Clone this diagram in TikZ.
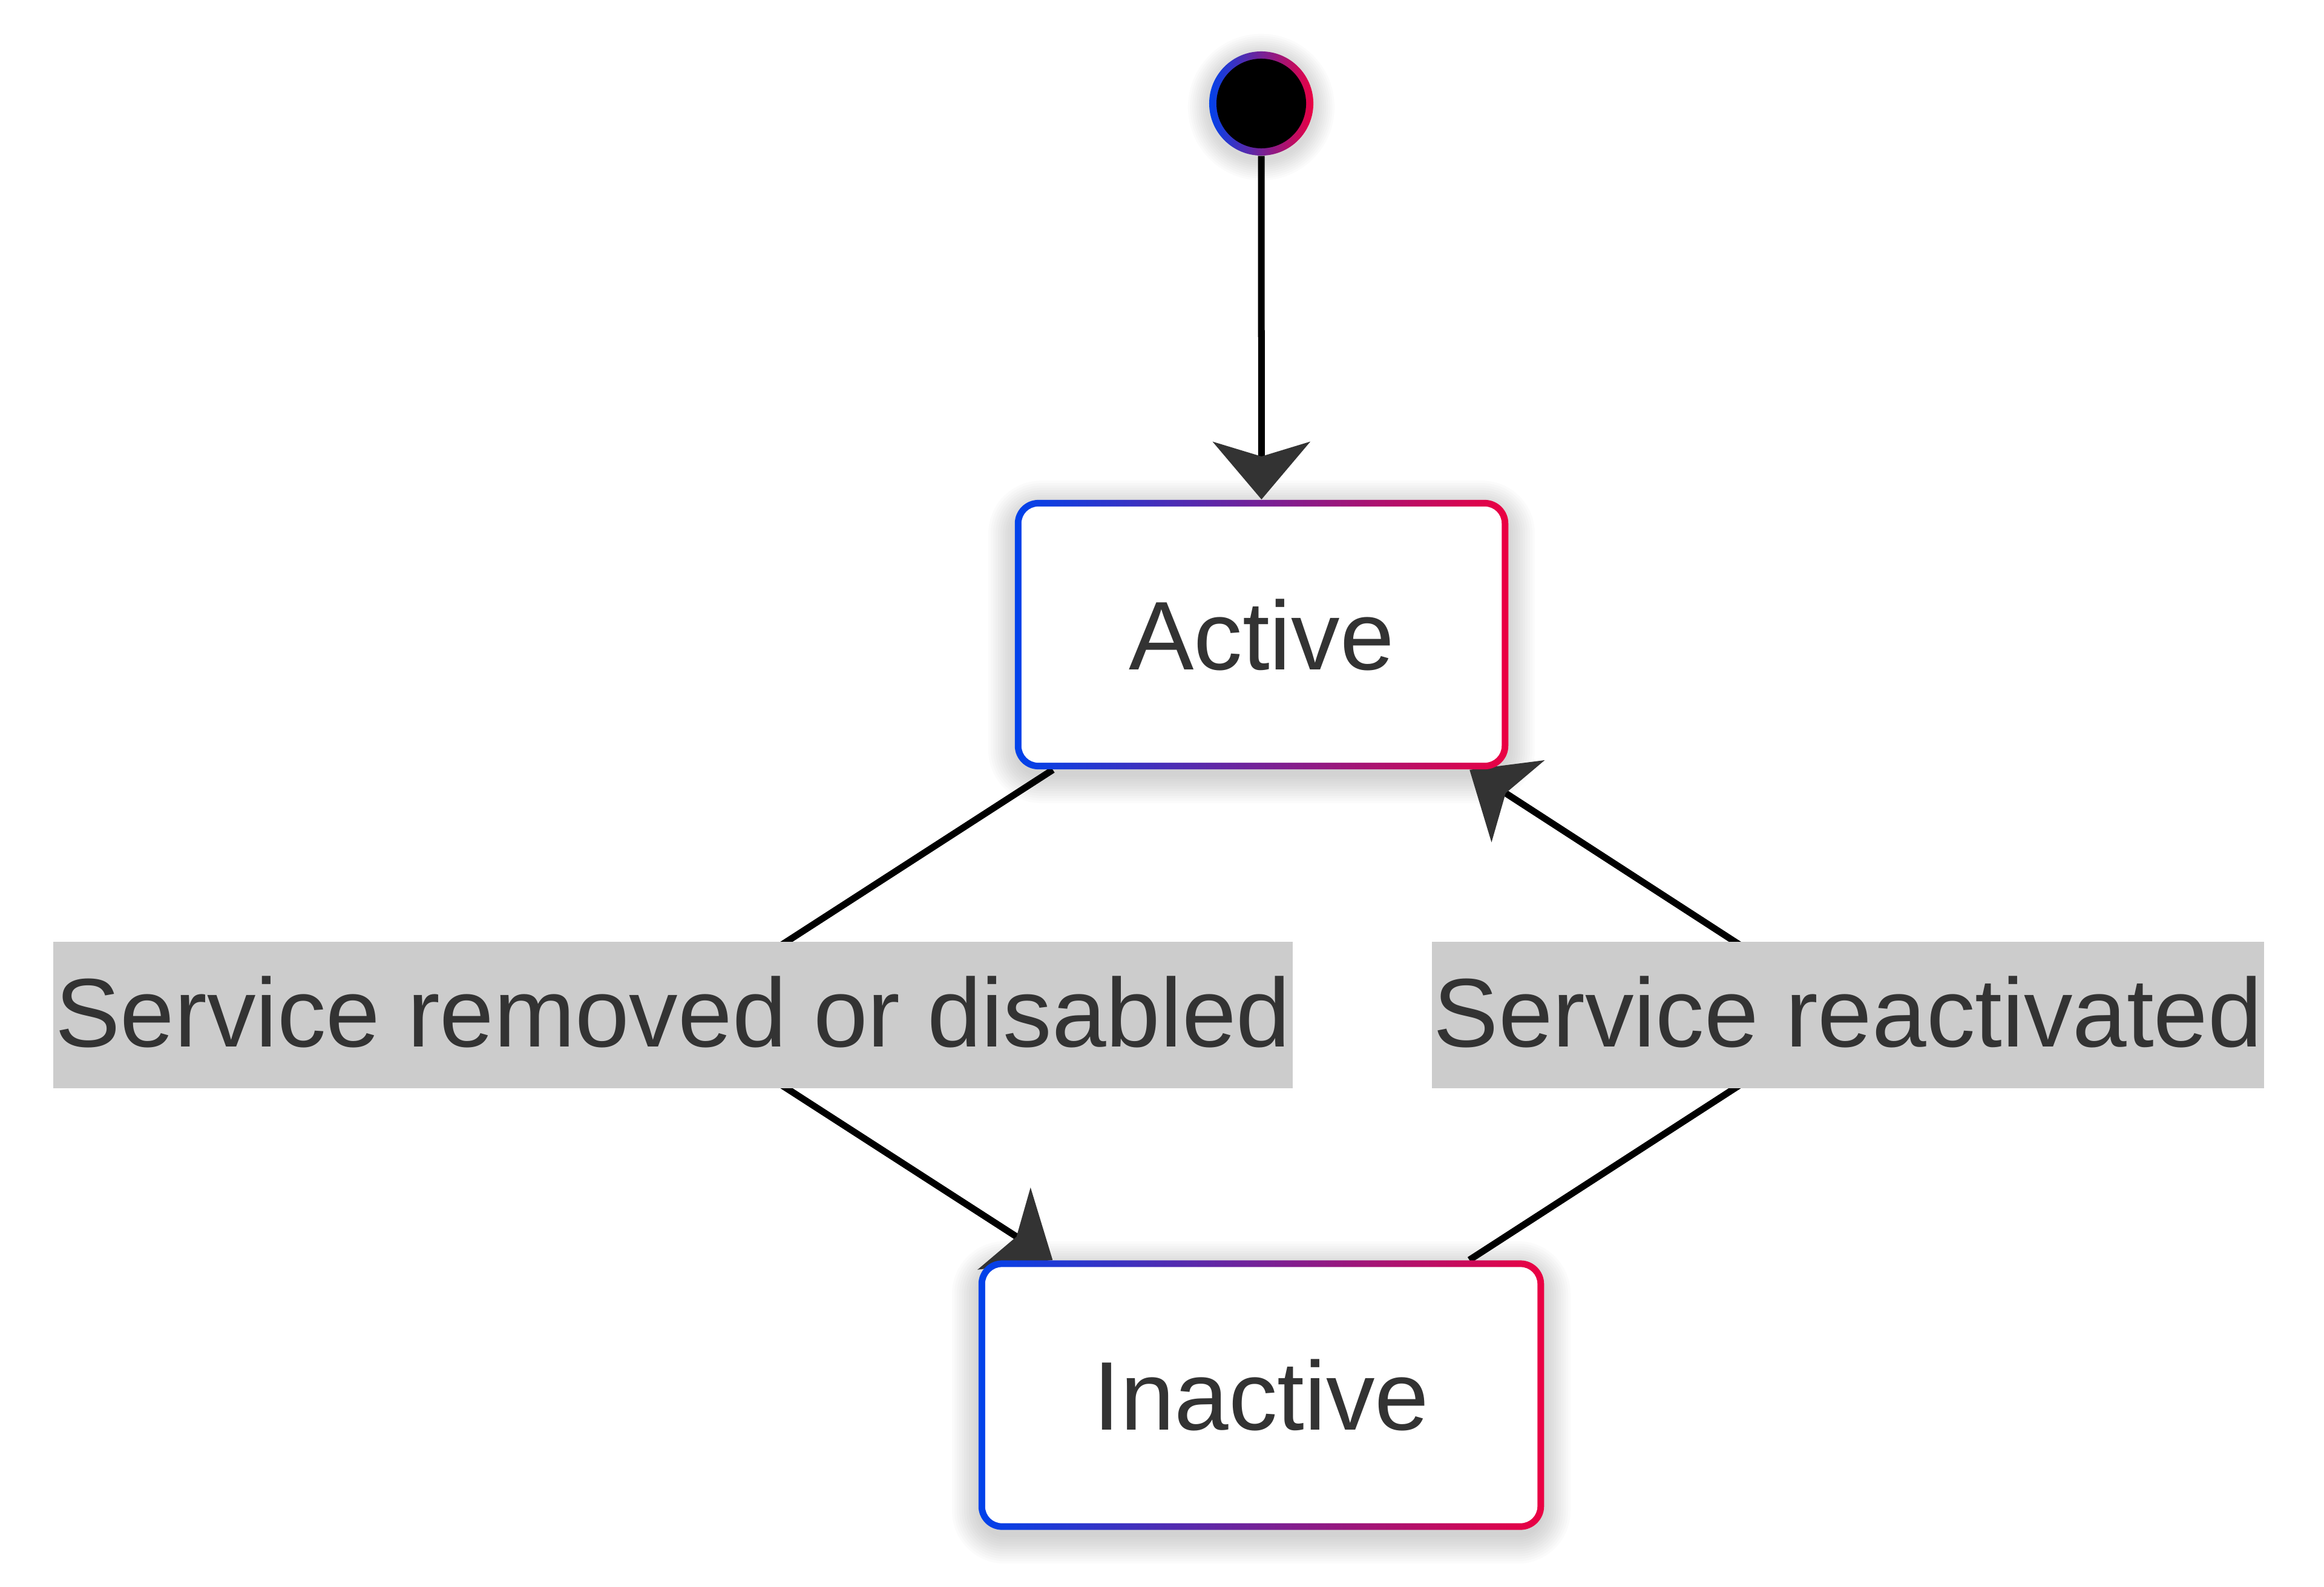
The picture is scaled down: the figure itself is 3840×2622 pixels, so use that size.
\documentclass[tikz,border=0pt]{standalone}
\usepackage{fontspec}
\setmainfont{Liberation Sans}
\usetikzlibrary{arrows.meta}
\definecolor{gblue}{RGB}{0,66,235}
\definecolor{gred}{RGB}{235,0,66}
\definecolor{txt}{RGB}{51,51,51}
\definecolor{lblgray}{RGB}{204,204,204}
\definecolor{arrowgray}{RGB}{51,51,51}
\pgfdeclarelayer{bg}
\pgfsetlayers{bg,main}
\tikzset{
  bigfont/.style={font=\fontsize{45.8pt}{55pt}\selectfont},
  statebox/.style={rectangle, rounded corners=0.39cm, minimum height=4.45cm, inner sep=0pt,
    left color=gblue, right color=gred, text=txt, bigfont, text height=1.15cm, text depth=0pt,
    path picture={\fill[white, rounded corners=0.28cm]
      ([shift={(0.11cm,0.11cm)}]path picture bounding box.south west) rectangle
      ([shift={(-0.11cm,-0.11cm)}]path picture bounding box.north east);}},
  startdot/.style={circle, minimum size=1.72cm, inner sep=0pt, left color=gblue, right color=gred,
    path picture={\fill[black] (path picture bounding box.center) circle (0.74cm);}},
  edgelabel/.style={fill=lblgray, text=txt, bigfont, inner xsep=0.03cm, inner ysep=0pt,
    text height=1.73cm, text depth=0.69cm},
  edgeline/.style={draw=black, line width=0.11cm,
    -{Stealth[length=0.95cm, width=1.6cm, inset=0.24cm, color=arrowgray]}},
}
\begin{document}
\begin{tikzpicture}[x=0.01cm, y=-0.01cm]
\useasboundingbox (0,0) rectangle (3840,2622);
\node[startdot] (start) at (2084,171) {};
\node[statebox, minimum width=8.15cm] (active) at (2084.5,1048.5) {Active};
\node[statebox, minimum width=9.34cm] (inactive) at (2084,2305) {Inactive};
\node[edgelabel] (lab1) at (1112,1677) {Service removed or disabled};
\node[edgelabel] (lab2) at (3053.5,1677) {Service reactivated};
\begin{pgfonlayer}{bg}
  \foreach \n in {active,inactive} {
    \foreach \k in {1,...,12} {
      \pgfmathsetmacro\rr{0.39+\k*0.04}
      \pgfmathsetmacro\dd{\k*0.04-0.05}
      \fill[black, opacity=0.016, rounded corners=\rr cm]
        ([shift={(-\dd cm,-\dd cm-0.12cm)}]\n.south west) rectangle
        ([shift={(\dd cm,\dd cm-0.12cm)}]\n.north east);
    }
  }
  \foreach \k in {1,...,10} {
    \pgfmathsetmacro\cr{0.86+\k*0.035}
    \fill[black, opacity=0.016] ([yshift=-0.06cm]start.center) circle (\cr cm);
  }
  \draw[edgeline] (start) -- (active);
  \draw[edgeline] (active) -- (lab1.center) -- (inactive);
  \draw[edgeline] (inactive) -- (lab2.center) -- (active);
\end{pgfonlayer}
\end{tikzpicture}
\end{document}
